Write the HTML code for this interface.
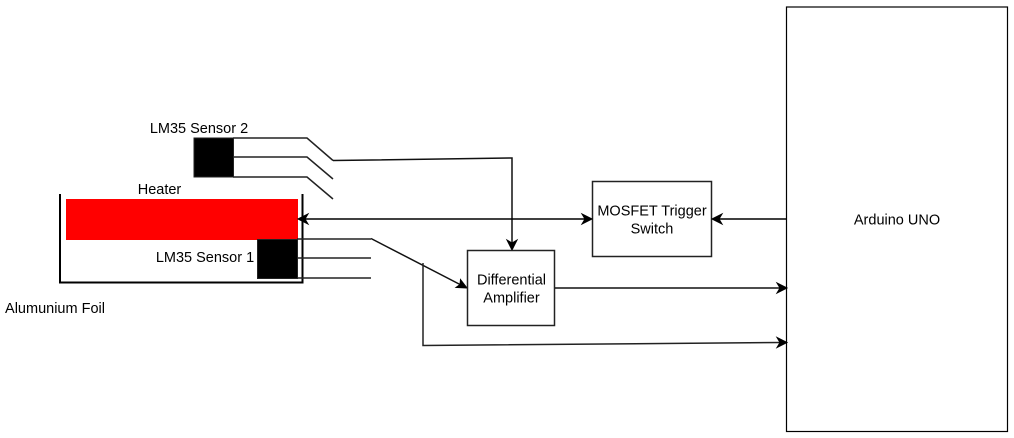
<!DOCTYPE html>
<html>
<head>
<meta charset="utf-8">
<style>
html,body{margin:0;padding:0;background:#fff;width:1014px;height:438px;overflow:hidden}
svg{display:block}
text{font-family:"Liberation Sans",Arial,sans-serif;font-size:14.5px;fill:#000}
</style>
</head>
<body>
<svg width="1014" height="438" viewBox="0 0 1014 438" xmlns="http://www.w3.org/2000/svg">
<rect x="0" y="0" width="1014" height="438" fill="#fff"/>
<!-- Arduino -->
<rect x="786.500" y="7" width="221" height="424.500" fill="#fff" stroke="#000" stroke-width="1.200"/>
<text x="897" y="224.500" text-anchor="middle">Arduino UNO</text>
<!-- Heater -->
<rect x="66" y="199" width="232" height="41" fill="#f00"/>
<!-- Foil tray -->
<path d="M60 194V282.500H302.500V194" fill="none" stroke="#000" stroke-width="2"/>
<!-- Sensor 1 -->
<rect x="257.500" y="239.500" width="40" height="39" fill="#000" stroke="#222" stroke-width="1"/>
<path d="M297 239H371M297 258H371M297 278H371" stroke="#222" stroke-width="1.500" fill="none"/>
<!-- Sensor 2 -->
<rect x="194" y="138" width="39.500" height="39" fill="#000" stroke="#222" stroke-width="1"/>
<path d="M233 138H307L333 160.500M233 157H307L333 179M233 177H307L333 199" stroke="#222" stroke-width="1.500" fill="none"/>
<!-- Sensor 2 to amplifier -->
<path d="M333 160.500L512 158V244" stroke="#111" stroke-width="1.500" fill="none"/>
<path d="M512 250L507 240L512 243L517 240Z" fill="#000" stroke="#000"/>
<!-- Sensor 1 to amplifier -->
<path d="M371 238.500L461 285" stroke="#111" stroke-width="1.500" fill="none"/>
<path d="M467 288L456 287.500L460 284.500L460.500 279.500Z" fill="#000" stroke="#000"/>
<!-- Amplifier -->
<rect x="467.500" y="250.500" width="87" height="75" fill="#fff" stroke="#222" stroke-width="1.500"/>
<text x="511.500" y="284.500" text-anchor="middle">Differential</text>
<text x="511.500" y="302.500" text-anchor="middle">Amplifier</text>
<!-- MOSFET -->
<rect x="592.500" y="181.500" width="119" height="75" fill="#fff" stroke="#222" stroke-width="1.500"/>
<text x="652" y="215.500" text-anchor="middle">MOSFET Trigger</text>
<text x="652" y="233.500" text-anchor="middle">Switch</text>
<!-- Heater to MOSFET double arrow -->
<path d="M303 219H587" stroke="#000" stroke-width="1.500" fill="none"/>
<path d="M298 219L308 214L305 219L308 224Z" fill="#000" stroke="#000"/>
<path d="M592 219L582 214L585 219L582 224Z" fill="#000" stroke="#000"/>
<!-- Arduino to MOSFET -->
<path d="M786 219H717" stroke="#000" stroke-width="1.500" fill="none"/>
<path d="M712 219L722 214L719 219L722 224Z" fill="#000" stroke="#000"/>
<!-- Amplifier to Arduino -->
<path d="M555 288H781" stroke="#111" stroke-width="1.500" fill="none"/>
<path d="M787 288L777 283L780 288L777 293Z" fill="#000" stroke="#000"/>
<!-- Sensor 1 direct to Arduino -->
<path d="M423 263V345.500L781 342.500" stroke="#222" stroke-width="1.500" fill="none"/>
<path d="M787 342.500L777 337.500L780 342.500L777 347.500Z" fill="#000" stroke="#000"/>
<!-- Labels -->
<text x="199" y="133" text-anchor="middle">LM35 Sensor 2</text>
<text x="159.500" y="194" text-anchor="middle">Heater</text>
<text x="205" y="262" text-anchor="middle">LM35 Sensor 1</text>
<text x="55" y="313" text-anchor="middle">Alumunium Foil</text>
</svg>
</body>
</html>
